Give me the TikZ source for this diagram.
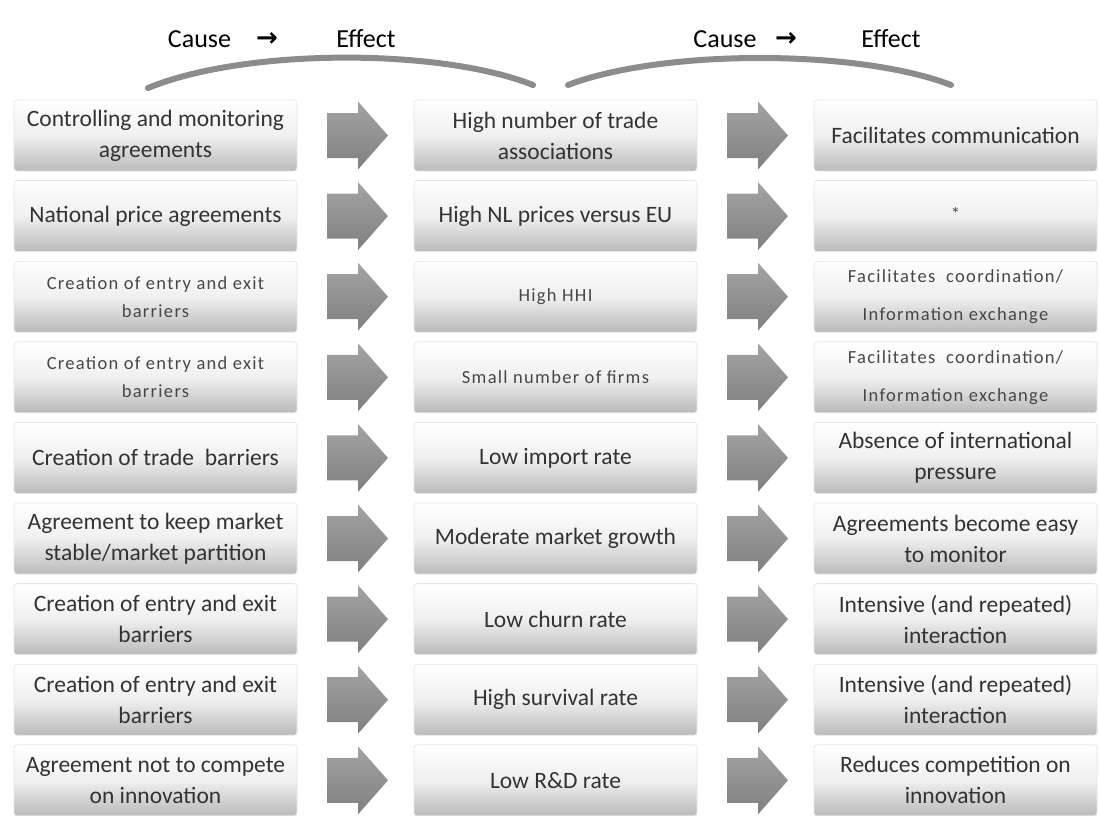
\documentclass[tikz,border=0pt]{standalone}
\usepackage{fontspec}
\setmainfont{Carlito}
\newfontfamily\spaced[LetterSpace=7]{Carlito}
\newfontfamily\dejavu{DejaVu Sans}
\definecolor{txt}{HTML}{333333}
\definecolor{curvegray}{HTML}{8C8C8C}
\tikzset{
  box/.style={rectangle, rounded corners=3pt, minimum width=283pt, minimum height=71pt,
    top color=white, bottom color=black!27, middle color=black!6,
    draw=black!10, line width=0.8pt, text=txt, align=center, inner sep=0pt,
    font=\fontsize{23.5}{31}\selectfont},
  smalltext/.style={font=\spaced\fontsize{18.5}{28}\selectfont, text=black!72},
  bigarrow/.style={top color=black!36, bottom color=black!50, draw=none},
  bracecurve/.style={draw=curvegray, line width=6pt, line cap=round},
  head/.style={anchor=base, inner sep=0pt, font=\fontsize{26}{30}\selectfont, text=black}
}
\begin{document}
\begin{tikzpicture}[x=1pt,y=-1pt]
\useasboundingbox (0,0) rectangle (1099,817);

% header
\node[head] (cause1) at (199.5,47) {Cause};
\node[head, font=\dejavu\bfseries\fontsize{26}{30}\selectfont] (to1) at (267,46) {→};
\node[head] (effect1) at (366,47) {Effect};
\node[head] (cause2) at (725,47) {Cause};
\node[head, font=\dejavu\bfseries\fontsize{26}{30}\selectfont] (to2) at (786,46) {→};
\node[head] (effect2) at (891,47) {Effect};

\coordinate (c1s) at (148,88);
\coordinate (c1e) at (533,85);
\coordinate (c2s) at (568,85);
\coordinate (c2e) at (951,85);
\draw[bracecurve] (c1s) .. controls (245,48) and (440,48) .. (c1e);
\draw[bracecurve] (c2s) .. controls (662,49) and (858,49) .. (c2e);

% arrows
\foreach \y in {135.5,216.1,296.7,377.3,457.9,538.5,619.1,699.7,780.3}{
  \foreach \x in {357.5,757.5}{
    \path[bigarrow, shift={(\x,\y)}] (-30.5,-22.5) -- (0.5,-22.5) -- (0.5,-34) -- (30.5,0)
      -- (0.5,34) -- (0.5,22.5) -- (-30.5,22.5) -- cycle;
  }
}

% row 1
\node[box] (a1) at (155.5,135.5) {Controlling and monitoring\\agreements};
\node[box] (b1) at (555.5,135.5) {High number of trade\\associations};
\node[box] (c1) at (955.5,135.5) {Facilitates communication};
% row 2
\node[box] (a2) at (155.5,216.1) {National price agreements};
\node[box] (b2) at (555.5,216.1) {High NL prices versus EU};
\node[box, smalltext] (c2) at (955.5,216.1) {\raisebox{5pt}{*}};
% row 3
\node[box, smalltext] (a3) at (155.5,296.7) {Creation of entry and exit\\barriers};
\node[box, smalltext] (b3) at (555.5,296.7) {High HHI};
\node[box, smalltext] (c3) at (955.5,296.7) {Facilitates\ \ coordination/\\[10pt]Information exchange};
% row 4
\node[box, smalltext] (a4) at (155.5,377.3) {Creation of entry and exit\\barriers};
\node[box, smalltext] (b4) at (555.5,377.3) {Small number of firms};
\node[box, smalltext] (c4) at (955.5,377.3) {Facilitates\ \ coordination/\\[10pt]Information exchange};
% row 5
\node[box] (a5) at (155.5,457.9) {Creation of trade\ \ barriers};
\node[box] (b5) at (555.5,457.9) {Low import rate};
\node[box] (c5) at (955.5,457.9) {Absence of international\\pressure};
% row 6
\node[box] (a6) at (155.5,538.5) {Agreement to keep market\\stable/market partition};
\node[box] (b6) at (555.5,538.5) {Moderate market growth};
\node[box] (c6) at (955.5,538.5) {Agreements become easy\\to monitor};
% row 7
\node[box] (a7) at (155.5,619.1) {Creation of entry and exit\\barriers};
\node[box] (b7) at (555.5,619.1) {Low churn rate};
\node[box] (c7) at (955.5,619.1) {Intensive (and repeated)\\interaction};
% row 8
\node[box] (a8) at (155.5,699.7) {Creation of entry and exit\\barriers};
\node[box] (b8) at (555.5,699.7) {High survival rate};
\node[box] (c8) at (955.5,699.7) {Intensive (and repeated)\\interaction};
% row 9
\node[box] (a9) at (155.5,780.3) {Agreement not to compete\\on innovation};
\node[box] (b9) at (555.5,780.3) {Low R\&D rate};
\node[box] (c9) at (955.5,780.3) {Reduces competition on\\innovation};
\end{tikzpicture}
\end{document}
